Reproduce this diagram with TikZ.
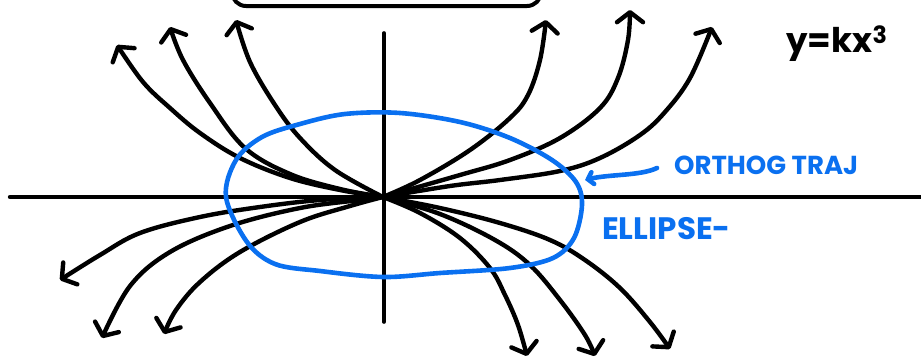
\documentclass[tikz,border=0pt]{standalone}
\usepackage{fontspec}
\setmainfont{Poppins}
\usetikzlibrary{arrows.meta}
\definecolor{pen}{RGB}{10,112,240}
\tikzset{
  curve/.style={line width=4.4pt, line cap=round, line join=round,
    -{Straight Barb[length=10pt,width=26pt,line cap=round,line join=round]}},
  axis/.style={line width=4.4pt, line cap=round},
  bluepen/.style={draw=pen, line width=4.6pt, line cap=round, line join=round},
  lbl/.style={font=\bfseries, inner sep=0pt}
}
\begin{document}
\begin{tikzpicture}[x=1pt,y=-1pt]
\useasboundingbox (0,0) rectangle (921,362);
\coordinate (O) at (383,197);
% top box (cut off)
\draw[line width=4pt, rounded corners=14pt] (232,-30) -- (232,6) -- (541,6) -- (541,-30);
% axes
\coordinate (xl) at (10,197); \coordinate (xr) at (925,197);
\coordinate (yt) at (384,33); \coordinate (yb) at (384,322);
\draw[axis] (xl) -- (xr);
\draw[axis, line width=3.6pt] (yt) -- (yb);
% upper left curves
\draw[curve] plot[smooth, tension=0.6] coordinates {(O) (340,190) (290,178) (240,158) (200,133) (170,108) (143,82) (117,45)};
\draw[curve] plot[smooth, tension=0.6] coordinates {(O) (340,189) (290,174) (245,148) (210,103) (183,60) (170,27)};
\draw[curve] plot[smooth, tension=0.6] coordinates {(O) (335,170) (300,138) (275,105) (250,62) (236,20)};
% upper right curves
\draw[curve] plot[smooth, tension=0.6] coordinates {(O) (420,180) (470,150) (510,118) (528,95) (540,60) (546,20)};
\draw[curve] plot[smooth, tension=0.6] coordinates {(O) (460,175) (510,160) (560,138) (600,108) (618,78) (628,40) (630,10)};
\draw[curve] plot[smooth, tension=0.6] coordinates {(O) (450,186) (500,180) (560,171) (600,158) (640,135) (665,112) (690,78) (712,27)};
% lower left curves
\draw[curve] plot[smooth, tension=0.6] coordinates {(O) (320,200) (260,207) (200,217) (140,233) (100,255) (60,280)};
\draw[curve] plot[smooth, tension=0.6] coordinates {(O) (360,200) (300,208) (230,226) (170,252) (130,286) (102,338)};
\draw[curve] plot[smooth, tension=0.6] coordinates {(O) (350,206) (300,222) (240,252) (200,282) (176,310) (164,334)};
% lower right curves
\draw[curve] plot[smooth, tension=0.6] coordinates {(O) (420,213) (460,238) (490,268) (505,295) (518,325) (527,356)};
\draw[curve] plot[smooth, tension=0.6] coordinates {(O) (440,214) (495,240) (530,265) (560,300) (585,335) (595,356)};
\draw[curve] plot[smooth, tension=0.6] coordinates {(O) (440,208) (500,223) (550,240) (585,260) (620,288) (650,322) (670,349)};
% ellipse (orthogonal trajectory)
\draw[bluepen] plot[smooth cycle, tension=0.55] coordinates {(226,197) (236,160) (262,137) (300,124) (345,114) (400,113) (460,122) (510,138) (552,160) (576,182) (582,205) (574,238) (553,258) (510,268) (440,273) (383,277) (320,271) (275,264) (247,242)};
% pointer
\node[lbl, text=pen, anchor=west, font=\bfseries\fontsize{26}{28}\selectfont] (orth) at (674,165) {ORTHOG TRAJ};
\coordinate (ptip) at (585,180);
\draw[bluepen, -{Straight Barb[length=5pt,width=12pt,line cap=round]}] (657,168) .. controls (640,176) and (610,174) .. (ptip);
\node[lbl, text=pen, anchor=west, font=\bfseries\fontsize{31}{33}\selectfont] (ell) at (602,229) {ELLIPSE-};
\node[lbl, anchor=center, font=\bfseries\fontsize{34}{36}\selectfont] (eq) at (837,44) {y=kx\textsuperscript{3}};
\end{tikzpicture}
\end{document}
